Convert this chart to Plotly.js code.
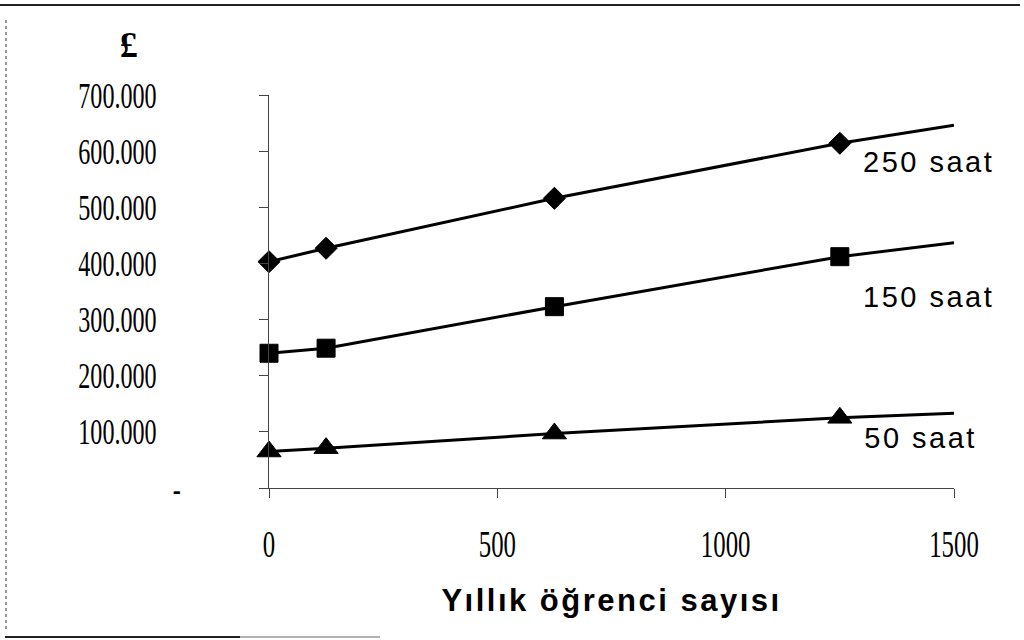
<!DOCTYPE html>
<html>
<head>
<meta charset="utf-8">
<script src="https://cdn.plot.ly/plotly-3.0.1.min.js"></script>
<style>
html,body{margin:0;padding:0;background:#fff;}
#chart{width:1024px;height:640px;}
.xtitle{letter-spacing:2.5px;}
g.annotation text{letter-spacing:2.5px;}
</style>
</head>
<body>
<div id="chart"></div>
<script>
// ---- data ----
const students = [0, 125, 625, 1250, 1500];
const cost250 = [403000, 427000, 516000, 614000, 646000];
const cost150 = [240000, 249000, 323000, 412000, 437000];
const cost50  = [65000, 71000, 97000, 125000, 133000];
const seriesNames = ['250 saat', '150 saat', '50 saat'];
const labelY = [581000, 340000, 89000];
const labelX = 1318;
const yTickVals = [0, 100000, 200000, 300000, 400000, 500000, 600000, 700000];
const yTickText = ['-', '100.000', '200.000', '300.000', '400.000', '500.000', '600.000', '700.000'];
const xTickVals = [0, 500, 1000, 1500];
const xTickText = ['0', '500', '1000', '1500'];
const yUnit = '£';
const xTitle = 'Yıllık öğrenci sayısı';

const NB = '\u00a0\u00a0\u00a0\u00a0';
const markerSizes = (s) => students.map((v, i) => i === students.length - 1 ? 0 : s);

function series(y, symbol, size, name) {
  return {
    type: 'scatter', mode: 'lines+markers', name: name,
    x: students, y: y,
    line: {color: '#000000', width: 3},
    marker: {symbol: symbol, size: markerSizes(size), color: '#000000', opacity: 1, line: {width: 1, color: '#000000'}},
    opacity: 1,
    cliponaxis: false
  };
}

const data = [
  series(cost250, 'diamond', 17, seriesNames[0]),
  series(cost150, 'square', 18, seriesNames[1]),
  series(cost50, 'triangle-up', 21, seriesNames[2])
];

function px2paperX(p){ return (p - 269) / 685; }
function px2paperY(p){ return (488 - p) / 393; }

const annotations = seriesNames.map((n, i) => ({
  x: labelX, y: labelY[i], xref: 'x', yref: 'y', text: n, showarrow: false,
  xanchor: 'left', yanchor: 'middle',
  font: {family: 'Liberation Sans, Arial, sans-serif', size: 29, color: '#000'}
}));
annotations.push({
  x: px2paperX(130), y: px2paperY(45), xref: 'paper', yref: 'paper', text: yUnit,
  showarrow: false, xanchor: 'center', yanchor: 'middle',
  font: {family: 'Liberation Serif, Times New Roman, serif', size: 36, color: '#000', weight: 'bold'}
});

const shapes = [
  {type: 'line', xref: 'paper', yref: 'paper', x0: px2paperX(0), x1: px2paperX(1020), y0: px2paperY(5), y1: px2paperY(5), line: {color: '#222', width: 2}},
  {type: 'line', xref: 'paper', yref: 'paper', x0: px2paperX(6), x1: px2paperX(6), y0: px2paperY(20), y1: px2paperY(632), line: {color: '#777', width: 1.5, dash: 'dot'}},
  {type: 'line', xref: 'paper', yref: 'paper', x0: px2paperX(5), x1: px2paperX(240), y0: px2paperY(637), y1: px2paperY(637), line: {color: '#222', width: 2}},
  {type: 'line', xref: 'paper', yref: 'paper', x0: px2paperX(240), x1: px2paperX(380), y0: px2paperY(637), y1: px2paperY(637), line: {color: '#999', width: 1.5}}
];

const layout = {
  width: 1024, height: 640,
  margin: {l: 269, r: 70, t: 95, b: 152, pad: 0},
  paper_bgcolor: '#fff', plot_bgcolor: '#fff',
  showlegend: false,
  xaxis: {
    range: [0, 1500], tickvals: xTickVals, ticktext: xTickText,
    showgrid: false, zeroline: false, showline: true, linecolor: '#444', linewidth: 1,
    ticks: 'outside', ticklen: 9, tickcolor: '#444', tickwidth: 1,
    ticklabelstandoff: 15,
    tickfont: {family: 'Liberation Serif, Times New Roman, serif', size: 37, color: '#000'},
    title: {text: xTitle, standoff: 24, font: {family: 'Liberation Sans, Arial, sans-serif', size: 31, color: '#000', weight: 'bold'}},
    automargin: false, fixedrange: true
  },
  yaxis: {
    range: [0, 700000], tickvals: yTickVals, ticktext: yTickText.map(t => t === '-' ? t : t + NB),
    showgrid: false, zeroline: false, showline: true, linecolor: '#444', linewidth: 1,
    ticks: 'outside', ticklen: 9, tickcolor: '#444', tickwidth: 1,
    ticklabelstandoff: 71,
    tickfont: {family: 'Liberation Serif, Times New Roman, serif', size: 36, color: '#000'},
    automargin: false, fixedrange: true
  },
  annotations: annotations,
  shapes: shapes
};

Plotly.newPlot('chart', data, layout, {staticPlot: true, displayModeBar: false}).then(function(){
  document.querySelectorAll('.xtick text, .ytick text').forEach(function(t){
    var w = t.getComputedTextLength();
    t.setAttribute('textLength', (w * 0.67).toFixed(1));
    t.setAttribute('lengthAdjust', 'spacingAndGlyphs');
  });
});
</script>
</body>
</html>
